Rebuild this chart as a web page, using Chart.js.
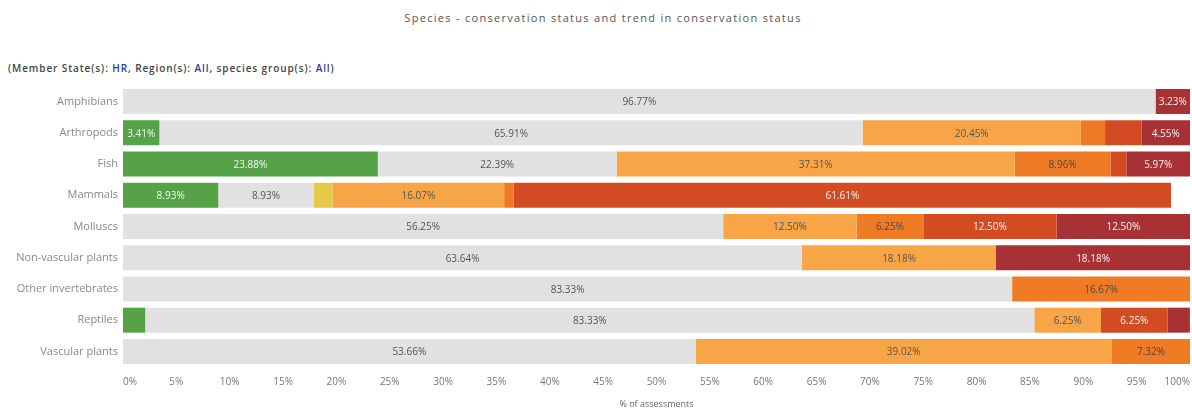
<!DOCTYPE html>
<html>
<head>
<meta charset="utf-8">
<script src="https://cdn.jsdelivr.net/npm/chart.js@4"></script>
<style>
  html, body { margin: 0; padding: 0; background: #fff; }
  #wrap { position: relative; width: 1192px; height: 410px; overflow: hidden; font-family: "Open Sans", sans-serif; }
  #title { position: absolute; top: 10px; left: 0; width: 1206px; text-align: center; font-size: 11px; letter-spacing: 1.3px; color: #555; }
  #subtitle { position: absolute; top: 61px; left: 8px; font-size: 10px; letter-spacing: 0.9px; font-weight: 600; color: #444; }
  #subtitle b { color: #2b3c9b; font-weight: 600; }
  #chartBox { position: absolute; left: 0; top: 0; width: 1192px; height: 410px; }
</style>
</head>
<body>
<div id="wrap">
  <div id="title">Species - conservation status and trend in conservation status</div>
  <div id="subtitle">(Member State(s): <b>HR</b>, Region(s): <b>All</b>, species group(s): <b>All</b>)</div>
  <div id="chartBox"><canvas id="statusChart"></canvas></div>
</div>
<script>
// species groups (y axis)
const groups = ['Amphibians', 'Arthropods', 'Fish', 'Mammals', 'Molluscs', 'Non-vascular plants',
  'Other invertebrates', 'Reptiles', 'Vascular plants'];

// % of assessments per status, in the same order as groups
const favourable       = [0,     3.41,  23.88, 8.93,  0,     0,     0,     2.08,  0];
const unknown          = [96.77, 65.91, 22.39, 8.93,  56.25, 63.64, 83.33, 83.33, 53.66];
const inadImproving    = [0,     0,     0,     1.79,  0,     0,     0,     0,     0];
const inadequate       = [0,     20.45, 37.31, 16.07, 12.5,  18.18, 0,     6.25,  39.02];
const inadDeteriorate  = [0,     2.27,  8.96,  0.89,  6.25,  0,     16.67, 0,     7.32];
const bad              = [0,     3.41,  1.49,  61.61, 12.5,  0,     0,     6.25,  0];
const badDeteriorate   = [3.23,  4.55,  5.97,  0,     12.5,  18.18, 0,     2.08,  0];
const notReported      = [0,     0,     0,     1.79,  0,     0,     0,     0,     0];

const xTicks = [0, 5, 10, 15, 20, 25, 30, 35, 40, 45, 50, 55, 60, 65, 70, 75, 80, 85, 90, 95, 100];

// segments Tableau left unlabelled
const skipLabels = ['Arthropods|bad'];

const series = [
  { key: 'fav', label: 'Favourable', data: favourable, color: '#55a346', text: '#f4f4f4' },
  { key: 'unk', label: 'Unknown', data: unknown, color: '#e1e1e1', text: '#555555' },
  { key: 'u1p', label: 'Unfavourable-inadequate (improving)', data: inadImproving, color: '#e6c84a', text: '#555555' },
  { key: 'u1', label: 'Unfavourable-inadequate', data: inadequate, color: '#f8a547', text: '#555555' },
  { key: 'u1m', label: 'Unfavourable-inadequate (deteriorating)', data: inadDeteriorate, color: '#f07b25', text: '#4a4a4a' },
  { key: 'bad', label: 'Unfavourable-bad', data: bad, color: '#d24b22', text: '#f4f4f4' },
  { key: 'u2m', label: 'Unfavourable-bad (deteriorating)', data: badDeteriorate, color: '#a83136', text: '#f4f4f4' },
  { key: 'nr', label: 'Not reported', data: notReported, color: '#ffffff', text: '#555555' }
];

const segmentLabels = {
  id: 'segmentLabels',
  afterDatasetsDraw(chart) {
    const ctx = chart.ctx;
    ctx.save();
    ctx.font = '10px "Open Sans", sans-serif';
    ctx.textAlign = 'center';
    ctx.textBaseline = 'middle';
    chart.data.datasets.forEach((ds, i) => {
      const meta = chart.getDatasetMeta(i);
      meta.data.forEach((bar, j) => {
        const v = ds.data[j];
        if (!v || v < 3 || ds.key === 'nr') return;
        if (skipLabels.includes(groups[j] + '|' + ds.key)) return;
        ctx.fillStyle = ds.textColor;
        ctx.fillText(v.toFixed(2) + '%', (bar.x + bar.base) / 2, bar.y + 1);
      });
    });
    ctx.restore();
  }
};

new Chart(document.getElementById('statusChart'), {
  type: 'bar',
  data: {
    labels: groups,
    datasets: series.map(s => ({
      key: s.key,
      label: s.label,
      data: s.data,
      backgroundColor: s.color,
      textColor: s.text,
      borderWidth: 0,
      barPercentage: 0.8,
      categoryPercentage: 1
    }))
  },
  options: {
    indexAxis: 'y',
    responsive: true,
    maintainAspectRatio: false,
    animation: false,
    layout: { padding: { top: 86, right: 2, left: 0, bottom: 0 } },
    plugins: {
      legend: { display: false },
      tooltip: { enabled: false }
    },
    scales: {
      x: {
        stacked: true,
        min: 0,
        max: 100,
        afterBuildTicks: s => { s.ticks = xTicks.map(v => ({ value: v })); },
        afterFit: s => { s.height = 43; s.paddingLeft = 0; s.paddingRight = 0; },
        grid: { display: false, drawTicks: false },
        border: { display: false },
        ticks: {
          align: 'inner',
          padding: 9,
          color: '#777',
          font: { size: 10, family: '"Open Sans", sans-serif' },
          callback: v => v + '%'
        },
        title: {
          display: true,
          text: '% of assessments',
          color: '#666',
          font: { size: 9, family: '"Open Sans", sans-serif' },
          padding: { top: 4, bottom: 0 }
        }
      },
      y: {
        stacked: true,
        afterFit: s => { s.width = 123; },
        grid: { display: false, drawTicks: false },
        border: { display: false },
        ticks: {
          padding: 5,
          color: '#888',
          font: { size: 11, family: '"Open Sans", sans-serif' }
        }
      }
    }
  },
  plugins: [segmentLabels]
});
</script>
</body>
</html>
